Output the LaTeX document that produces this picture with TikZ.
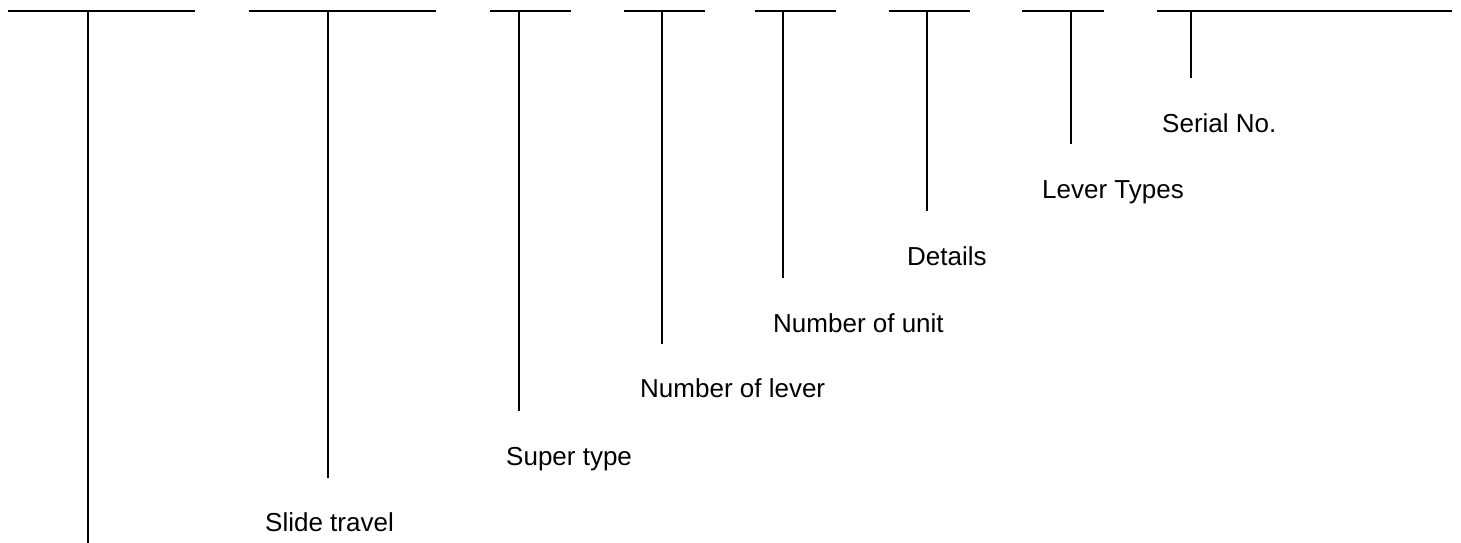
\documentclass[tikz,border=0pt]{standalone}
\usepackage{fontspec}
\setmainfont{Liberation Sans}
\begin{document}
\begin{tikzpicture}[x=1pt,y=-1pt,
  bar/.style={line width=2.3pt},
  stem/.style={line width=1.5pt},
  lbl/.style={anchor=base west,inner sep=0pt,font=\fontsize{26}{30}\selectfont}]
\useasboundingbox (0,0) rectangle (1461,543);
% top bars
\foreach \a/\b/\n in {8/195/1,249/436/2,490/571/3,624/705/4,755/836/5,889/970/6,1022/1104/7,1157/1452/8}{
  \coordinate (L\n) at (\a,11);
  \coordinate (R\n) at (\b,11);
  \draw[bar] (L\n) -- (R\n);
}
% stems
\foreach \x/\e/\n in {88/543/1,328/478/2,519/411/3,662/344/4,783/278/5,927/211/6,1071/144/7,1191/78/8}{
  \coordinate (T\n) at (\x,11);
  \coordinate (B\n) at (\x,\e);
  \draw[stem] (T\n) -- (B\n);
}
% labels
\node[lbl] (slide) at (265,531) {Slide travel};
\node[lbl] (super) at (506,465) {Super type};
\node[lbl] (lever) at (640,397) {Number of lever};
\node[lbl] (unit) at (773,332) {Number of unit};
\node[lbl] (details) at (907,265) {Details};
\node[lbl] (types) at (1042,198) {Lever Types};
\node[lbl] (serial) at (1162,132) {Serial No.};
\end{tikzpicture}
\end{document}
